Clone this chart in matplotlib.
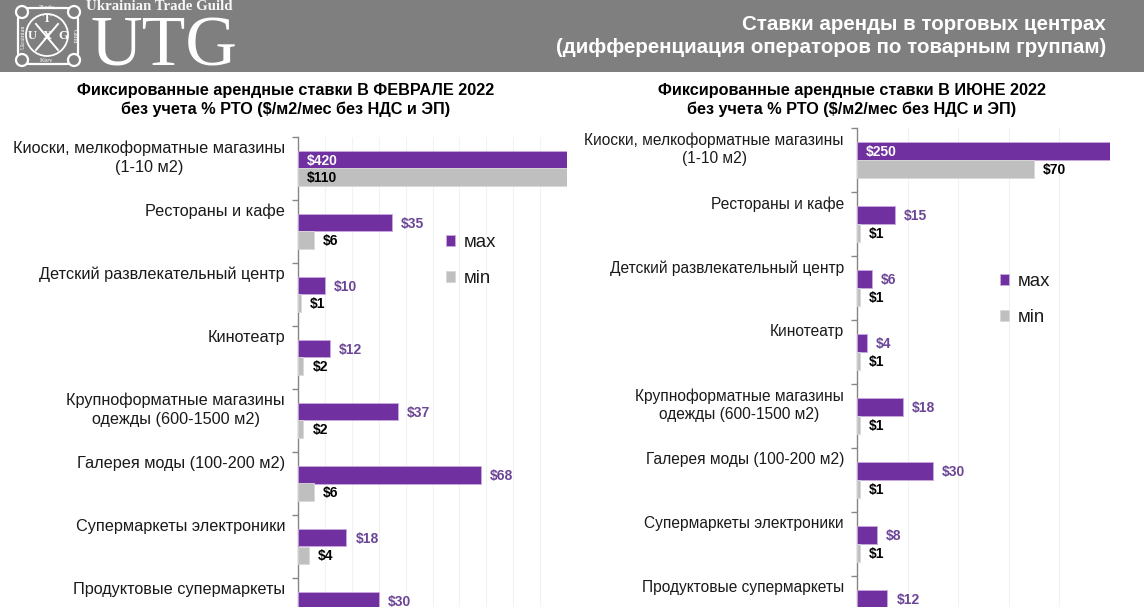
import matplotlib
matplotlib.use("Agg")
import matplotlib.pyplot as plt
from matplotlib.patches import FancyBboxPatch, Circle, Rectangle

W, H = 1144, 607
SANS = ['Liberation Sans', 'DejaVu Sans']
NARROW = ['Liberation Sans Narrow', 'Liberation Sans', 'DejaVu Sans']
SERIF = ['Liberation Serif', 'DejaVu Serif']
plt.rcParams['font.family'] = SANS

categories = ["Киоски, мелкоформатные магазины\n(1-10 м2)", "Рестораны и кафе",
              "Детский развлекательный центр", "Кинотеатр",
              "Крупноформатные магазины\nодежды (600-1500 м2)", "Галерея моды (100-200 м2)",
              "Супермаркеты электроники", "Продуктовые супермаркеты"]
feb_max = [420, 35, 10, 12, 37, 68, 18, 30]
feb_min = [110, 6, 1, 2, 2, 6, 4]
jun_max = [250, 15, 6, 4, 18, 30, 8, 12]
jun_min = [70, 1, 1, 1, 1, 1, 1]
feb_title = "Фиксированные арендные ставки В ФЕВРАЛЕ 2022\nбез учета % РТО ($/м2/мес без НДС и ЭП)"
jun_title = "Фиксированные арендные ставки В ИЮНЕ 2022\nбез учета % РТО ($/м2/мес без НДС и ЭП)"
header = "Ставки аренды в торговых центрах\n(дифференциация операторов по товарным группам)"
series_names = ["мах", "мin"]

PURPLE, GREY = '#7030A0', '#BFBFBF'
LABEL_PURPLE = '#6B4596'
GRIDC, AXC = '#F2F2F2', '#868686'
PX = 72 / 100  # points per pixel

fig = plt.figure(figsize=(W / 100, H / 100), dpi=100, facecolor='white')


def panel(x0, x1, top, step, vmax_vals, vmin_vals, grid_step, title, title_x, legend_xy, cat_fs):
    bottom = top + step * len(categories)
    ax = fig.add_axes([x0 / W, 1 - bottom / H, (x1 - x0) / W, (bottom - top) / H])
    ax.set_xlim(0, 100)
    ax.set_ylim(len(categories) - 0.5, -0.5)
    h = 0.28
    ypos = list(range(len(categories)))
    b1 = ax.barh([y - h / 2 for y in ypos], vmax_vals, height=h, color=PURPLE,
                 edgecolor='#C9A9E0', linewidth=0.6, label=series_names[0], zorder=3)
    b2 = ax.barh([y + h / 2 for y in ypos[:len(vmin_vals)]], vmin_vals, height=h, color=GREY,
                 edgecolor='#D9D9D9', linewidth=0.6, label=series_names[1], zorder=3)
    for vals, off, col, txt_first in ((vmax_vals, -h / 2, LABEL_PURPLE, 'white'),
                                      (vmin_vals, h / 2, 'black', 'black')):
        for i, v in enumerate(vals):
            if v >= 100:
                ax.annotate(f"${v}", (0, i + off), xytext=(9 * PX, -1 * PX), textcoords='offset points',
                            color=txt_first, fontsize=10, fontweight='bold', family=NARROW,
                            va='center', ha='left', zorder=5)
            else:
                ax.annotate(f"${v}", (v, i + off), xytext=(9 * PX, -1 * PX), textcoords='offset points',
                            color=col, fontsize=10, fontweight='bold', family=NARROW,
                            va='center', ha='left', zorder=5)
    ax.set_xticks(range(0, 101, grid_step))
    ax.grid(axis='x', color=GRIDC, linewidth=0.8, zorder=0)
    ax.set_axisbelow(True)
    ax.tick_params(axis='x', length=0, labelbottom=False)
    ax.set_yticks([y - 0.5 for y in range(len(categories) + 1)])
    ax.tick_params(axis='y', length=4, width=1, color=AXC, labelleft=False, direction='out')
    for s in ('top', 'right', 'bottom'):
        ax.spines[s].set_visible(False)
    ax.spines['left'].set_color(AXC)
    ax.spines['left'].set_linewidth(1)
    for i, c in enumerate(categories):
        ax.annotate(c, (0, i - 0.5), xytext=(-13 * PX, -4 * PX), textcoords='offset points',
                    ha='right', va='top', multialignment='center', fontsize=cat_fs,
                    color='#1a1a1a', linespacing=1.27, annotation_clip=False)
    fig.text(title_x / W, 1 - 100 / H, title, ha='center', va='center', fontsize=11.7,
             fontweight='bold', color='black', linespacing=1.32)
    ax.legend(handles=[b1, b2], loc='upper left',
              bbox_to_anchor=(legend_xy[0] / W, 1 - legend_xy[1] / H),
              bbox_transform=fig.transFigure, frameon=False, fontsize=13.4,
              handlelength=0.51, handleheight=0.51, handletextpad=0.45, labelspacing=1.02,
              borderpad=0, borderaxespad=0, labelcolor='#1a1a1a')
    return ax


panel(298, 567, 137, 63, feb_max, feb_min, 10, feb_title, 286, (446, 234), 11.7)
panel(857, 1110, 128, 64, jun_max, jun_min, 20, jun_title, 852, (1000, 273), 11.2)

# header band and logo in pixel coordinates
ov = fig.add_axes([0, 0, 1, 1], zorder=10)
ov.set_xlim(0, W)
ov.set_ylim(H, 0)
ov.axis('off')
ov.patch.set_alpha(0)
ov.add_patch(Rectangle((0, 0), W, 72, facecolor='#7F7F7F', edgecolor='none'))
ov.text(1106, 36, header, ha='right', va='center', color='white', fontsize=14.75,
        fontweight='bold', linespacing=1.33)
ov.add_patch(FancyBboxPatch((18, 8), 60, 56, boxstyle='round,pad=0,rounding_size=12',
                            facecolor='none', edgecolor='white', linewidth=1.6))
for cx, cy in ((22, 12), (74, 12), (22, 60), (74, 60)):
    ov.add_patch(Circle((cx, cy), 6, facecolor='#7F7F7F', edgecolor='white', linewidth=1.6))
ov.add_patch(Circle((47, 35), 21, facecolor='none', edgecolor='white', linewidth=1.3))
ov.plot([36, 58], [24, 50], color='white', linewidth=1.4)
ov.plot([58, 36], [24, 50], color='white', linewidth=1.4)
for s, x, y in (("T", 47, 19), ("U", 32, 36), ("X", 47, 36), ("G", 63, 36)):
    ov.text(x, y, s, color='white', family=SERIF, fontsize=9, fontweight='bold', ha='center', va='center')
ov.text(47, 7.5, "Trade", color='white', family=SERIF, fontsize=5, ha='center', va='center')
ov.text(47, 61, "Kiev", color='white', family=SERIF, fontsize=5, ha='center', va='center')
ov.text(23, 37, "Ukrainian", color='white', family=SERIF, fontsize=4.3, rotation=90, ha='center', va='center')
ov.text(74, 36, "Guild", color='white', family=SERIF, fontsize=4.5, rotation=-90, ha='center', va='center')
ov.text(86, 6, "Ukrainian Trade Guild", color='white', family=SERIF, fontsize=10.7, fontweight='bold',
        ha='left', va='center', alpha=0.95)
ov.text(90, 48, "UTG", color='white', family=SERIF, fontsize=51.5, ha='left', va='center')

fig.savefig("out.png", dpi=100)
